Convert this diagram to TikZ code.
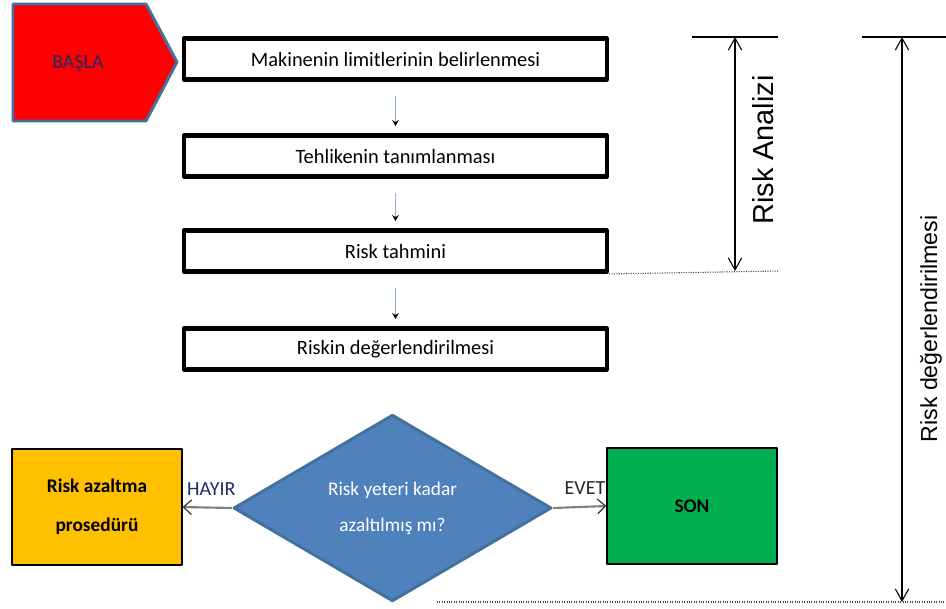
\documentclass[tikz,border=0pt]{standalone}
\usepackage{fontspec}
\setmainfont{Carlito}
\newfontfamily\arialfont{Liberation Sans}
\usetikzlibrary{arrows.meta, shapes.geometric}

\definecolor{startRed}{HTML}{FF0000}
\definecolor{shapeEdge}{HTML}{41719C}
\definecolor{decideBlue}{HTML}{4F81BD}
\definecolor{reduceOrange}{HTML}{FFC000}
\definecolor{stopGreen}{HTML}{00B050}
\definecolor{flowBlue}{HTML}{8DB3E2}
\definecolor{startText}{HTML}{1F2A66}

\begin{document}
\begin{tikzpicture}[x=0.75pt, y=-0.75pt, line join=round, >=Stealth,
    font=\fontsize{14.5}{17}\selectfont,
    stepbox/.style={draw, line width=3.4pt, minimum width=317pt, minimum height=31pt, inner sep=0pt,
      font=\fontsize{15.3}{18}\selectfont},
    endbox/.style={draw, line width=0.9pt, minimum width=127.5pt, minimum height=87pt,
      align=center, font=\fontsize{14.5}{29}\selectfont\bfseries},
    flowarrow/.style={draw=flowBlue, line width=0.8pt, -{Stealth[black, length=4.5pt, width=5pt]},
      shorten <=10.5pt, shorten >=5.25pt},
    sidearrow/.style={draw=black!50, line width=1.6pt, -{Straight Barb[black!80, line width=0.9pt, length=6pt, width=11pt]}},
    dimarrow/.style={line width=0.8pt, {Straight Barb[length=9pt, width=10pt]}-{Straight Barb[length=9pt, width=10pt]}},
    guide/.style={densely dotted, line width=0.8pt, black!70}]

  \useasboundingbox (0,0) rectangle (946,608);

  % Start arrow shape
  \filldraw[fill=startRed, draw=shapeEdge, line width=2.2pt]
    (13,4) -- (146,4) -- (177,62) -- (146,121) -- (13,121) -- cycle;
  \node[text=startText, font=\fontsize{15}{18}\selectfont] (start) at (78,64) {BAŞLA};

  % Main steps
  \node[stepbox] (limit)    at (395.5,59)  {Makinenin limitlerinin belirlenmesi};
  \node[stepbox] (hazard)   at (395.5,156) {Tehlikenin tanımlanması};
  \node[stepbox] (estimate) at (395.5,251) {Risk tahmini};
  \node[stepbox] (evaluate) at (395.5,349) {Riskin değerlendirilmesi};

  \draw[flowarrow] (limit) -- (hazard);
  \draw[flowarrow] (hazard) -- (estimate);
  \draw[flowarrow] (estimate) -- (evaluate);

  % Decision
  \node[diamond, draw=shapeEdge, fill=decideBlue, line width=2.2pt, inner sep=0pt,
    minimum width=238.5pt, minimum height=140pt, text=white, align=center,
    font=\fontsize{14.5}{27}\selectfont] (decide) at (392.5,508)
    {Risk yeteri kadar\\azaltılmış mı?};

  \node[endbox, fill=reduceOrange] (reduce) at (97,507) {Risk azaltma\\prosedürü};
  \node[endbox, fill=stopGreen] (stop) at (692,506) {SON};

  \draw[sidearrow] (decide.west) -- (reduce.east)
    node[midway, above=5pt, xshift=3pt, text=startText, font=\fontsize{15}{18}\selectfont] (no) {HAYIR};
  \draw[sidearrow] (decide.east) -- (stop.west)
    node[midway, above=5pt, xshift=4pt, text=black!85, font=\fontsize{15}{18}\selectfont] (yes) {EVET};

  % Risk Analizi span
  \coordinate (raTop) at (735,37);
  \coordinate (raBot) at (735,271);
  \coordinate (raEnd) at (778,271);
  \draw[line width=1.1pt] (692,37) -- (778,37);
  \draw[dimarrow] (raTop) -- (raBot);
  \draw[guide] (estimate.south east) -- (raEnd);
  \node[rotate=90, font=\arialfont\fontsize{21.7}{25}\selectfont] (analysis) at (763,150) {Risk Analizi};

  % Risk degerlendirilmesi span
  \coordinate (rdTop) at (902,37);
  \coordinate (rdBot) at (902,602);
  \coordinate (rdLeft) at (437,602);
  \coordinate (rdRight) at (946,602);
  \draw[line width=1.1pt] (862,37) -- (946,37);
  \draw[dimarrow] (rdTop) -- (rdBot);
  \draw[guide] (rdLeft) -- (rdRight);
  \node[rotate=90, font=\arialfont\fontsize{17.4}{20}\selectfont] (assessment) at (931,329) {Risk değerlendirilmesi};

\end{tikzpicture}
\end{document}
